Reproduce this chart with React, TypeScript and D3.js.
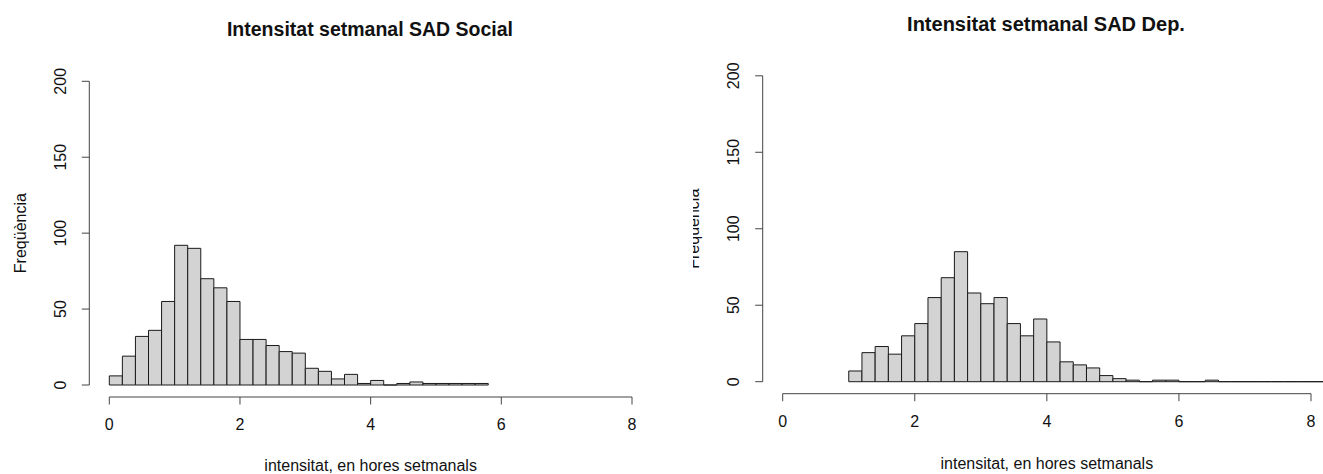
import React from "react";
import * as d3 from "d3";

// histogram counts, bins of 0.2 hours
const socialCounts = [6, 19, 32, 36, 55, 92, 90, 70, 64, 55, 30, 30, 26, 22, 21, 11, 9, 4, 7, 1, 3, 0, 1, 2, 1, 1, 1, 1, 1];
const socialStart = 0;
const depCounts = [7, 19, 23, 18, 30, 38, 55, 68, 85, 58, 51, 55, 38, 30, 41, 26, 13, 11, 9, 4, 2, 1, 0, 1, 1, 0, 0, 1, 0, 0, 0, 0, 0, 0, 0, 0, 0];
const depStart = 1;
const binWidth = 0.2;

const xTicks = [0, 2, 4, 6, 8];
const yTicks = [0, 50, 100, 150, 200];

const titles = ["Intensitat setmanal SAD Social", "Intensitat setmanal SAD Dep."];
const xLabel = "intensitat, en hores setmanals";
const yLabel = "Freqüència";

const font = "'Liberation Sans', Arial, sans-serif";

type PanelProps = {
  counts: number[];
  start: number;
  title: string;
  x0: number; x1: number; // pixel range of 0..8
  y0: number; y1: number; // pixel range of 0..200
  titleX: number; titleY: number; titleSize: number;
  clipId?: string; clipX?: number;
};

function Panel(p: PanelProps) {
  const x = d3.scaleLinear().domain([0, 8]).range([p.x0, p.x1]);
  const y = d3.scaleLinear().domain([0, 200]).range([p.y0, p.y1]);
  const axisX = p.x0 - 20;
  const axisY = p.y0 + 12;
  const s = (p.x1 - p.x0) / 522;

  const bars = p.counts.map((c, i) => {
    const a = x(p.start + i * binWidth);
    const b = x(p.start + (i + 1) * binWidth);
    const path = d3.path();
    path.moveTo(a, y(0));
    path.lineTo(b, y(0));
    path.lineTo(b, y(c));
    path.lineTo(a, y(c));
    path.closePath();
    return <path key={i} d={path.toString()} fill="#d3d3d3" stroke="#1a1a1a" strokeWidth={1} />;
  });

  return (
    <g clipPath={p.clipId ? `url(#${p.clipId})` : undefined} fontFamily={font} fill="#111">
      {p.clipId && (
        <defs>
          <clipPath id={p.clipId}>
            <rect x={p.clipX} y={0} width={1323 - (p.clipX || 0)} height={474} />
          </clipPath>
        </defs>
      )}
      <text x={p.titleX} y={p.titleY} textAnchor="middle" fontWeight="bold" fontSize={p.titleSize}>{p.title}</text>
      {bars}
      {/* x axis */}
      <line x1={x(0)} x2={x(8)} y1={axisY} y2={axisY} stroke="#444" />
      {xTicks.map(t => (
        <g key={t}>
          <line x1={x(t)} x2={x(t)} y1={axisY} y2={axisY + 7.5} stroke="#444" />
          <text x={x(t)} y={axisY + 33 * s} textAnchor="middle" fontSize={16}>{t}</text>
        </g>
      ))}
      <text x={(x(0) + x(8)) / 2} y={axisY + 74 * s} textAnchor="middle" fontSize={16}>{xLabel}</text>
      {/* y axis */}
      <line x1={axisX} x2={axisX} y1={y(0)} y2={y(200)} stroke="#444" />
      {yTicks.map(t => (
        <g key={t}>
          <line x1={axisX - 7.5} x2={axisX} y1={y(t)} y2={y(t)} stroke="#444" />
          <text transform={`translate(${axisX - 23.5},${y(t)}) rotate(-90)`} textAnchor="middle" fontSize={16}>{t}</text>
        </g>
      ))}
      <text transform={`translate(${axisX - 63.5},${(y(0) + y(200)) / 2}) rotate(-90)`} textAnchor="middle" fontSize={16}>{yLabel}</text>
    </g>
  );
}

export default function App() {
  return (
    <svg width={1323} height={474} style={{ position: "absolute", left: 0, top: 0, background: "#fff" }}>
      <Panel counts={socialCounts} start={socialStart} title={titles[0]}
        x0={109.3} x1={632} y0={385} y1={81.3}
        titleX={370} titleY={36} titleSize={19.5} />
      <Panel counts={depCounts} start={depStart} title={titles[1]}
        x0={782.7} x1={1311} y0={381.7} y1={75.8}
        titleX={1046} titleY={31} titleSize={20} clipId="rightClip" clipX={693} />
    </svg>
  );
}
